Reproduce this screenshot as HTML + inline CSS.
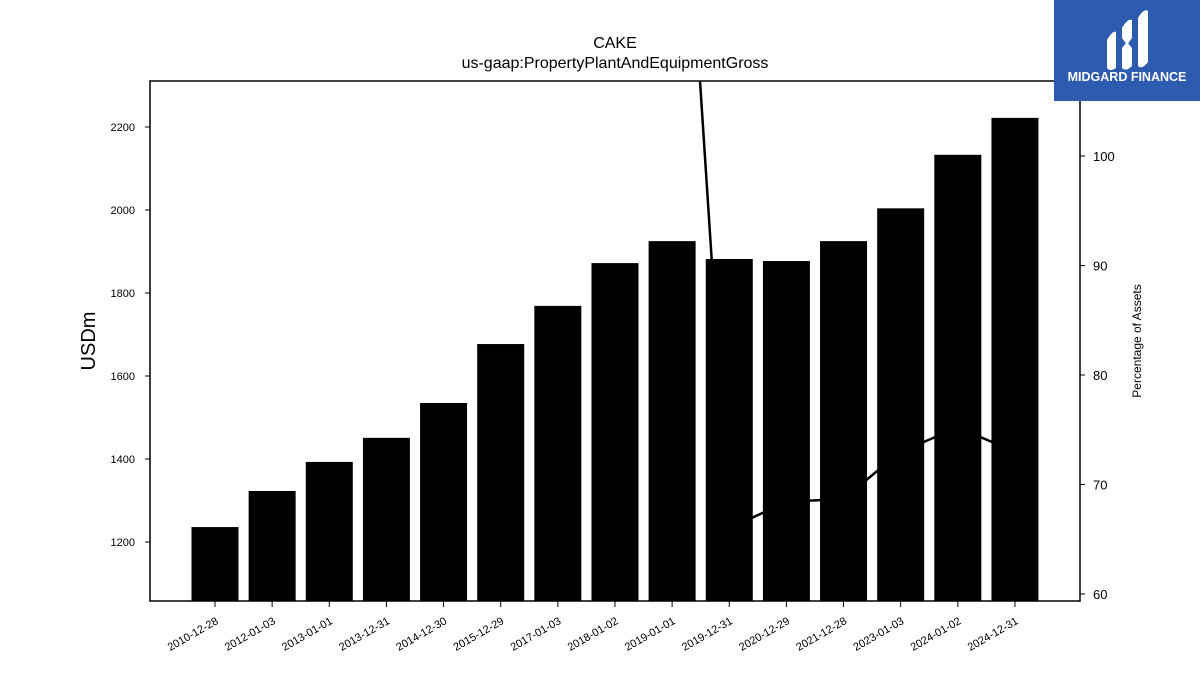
<!DOCTYPE html>
<html><head><meta charset="utf-8"><style>
body{margin:0;background:#fff;font-family:"Liberation Sans","DejaVu Sans",sans-serif}
</style></head><body>
<svg id="c" width="1200" height="675" xmlns="http://www.w3.org/2000/svg"></svg>
<script>
const categories=["2010-12-28","2012-01-03","2013-01-01","2013-12-31","2014-12-30","2015-12-29","2017-01-03","2018-01-02","2019-01-01","2019-12-31","2020-12-29","2021-12-28","2023-01-03","2024-01-02","2024-12-31"];
const ppeValues=[1236,1323,1393,1451,1535,1677,1769,1872,1925,1882,1877,1925,2004,2133,2222];
const pctValues=[140,141,142,142,143,144,145,146,145.8,66.0,68.4,68.7,73.0,75.2,73.0];
const leftTicks=[1200,1400,1600,1800,2000,2200];
const rightTicks=[60,70,80,90,100];
const NS="http://www.w3.org/2000/svg";
const svg=document.getElementById('c');
const L=150,R=1080,T=81,B=601;
const yL=v=>542-(v-1200)*0.415;
const yR=v=>156-(v-100)*10.95;
const xC=i=>215+i*57.14;
function el(t,a,p){const e=document.createElementNS(NS,t);for(const k in a)e.setAttribute(k,a[k]);(p||svg).appendChild(e);return e;}
const defs=el('defs',{});const cp=el('clipPath',{id:'clip'},defs);el('rect',{x:L,y:T,width:R-L,height:B-T},cp);
// line (behind bars)
let d=pctValues.map((v,i)=>(i?'L':'M')+xC(i)+','+yR(v)).join(' ');
const line=el('path',{d:d,fill:'none',stroke:'#000','stroke-width':2.5,'clip-path':'url(#clip)'});


ppeValues.forEach((v,i)=>{const r=el('rect',{x:xC(i)-23.5,y:yL(v),width:47,height:B-yL(v),fill:'#000'});

});
const frame=el('rect',{x:L,y:T,width:R-L,height:B-T,fill:'none',stroke:'#000','stroke-width':1.5});


leftTicks.forEach(v=>{const y=yL(v);el('line',{x1:L-5,x2:L,y1:y,y2:y,stroke:'#000'});
const t=el('text',{x:L-15,y:y+4,'font-size':11,'text-anchor':'end'});t.textContent=v;

});
rightTicks.forEach(v=>{const y=yR(v);el('line',{x1:R,x2:R+5,y1:y,y2:y,stroke:'#000'});
const t=el('text',{x:R+13,y:y+5,'font-size':13});t.textContent=v;

});
categories.forEach((c,i)=>{const x=xC(i);el('line',{x1:x,x2:x,y1:B,y2:B+6,stroke:'#000'});
const t=el('text',{x:x+4,y:B+22,'font-size':11,'text-anchor':'end',transform:`rotate(-30 ${x+4} ${B+22})`});t.textContent=c;

});
function txt(s,a,n){const t=el('text',a);t.textContent=s;return t;}
txt('CAKE',{x:615,y:48,'font-size':16,'text-anchor':'middle'},'chart-title');
txt('us-gaap:PropertyPlantAndEquipmentGross',{x:615,y:68,'font-size':16,'text-anchor':'middle'},'chart-subtitle');
txt('USDm',{x:95,y:341,'font-size':20,'text-anchor':'middle',transform:'rotate(-90 95 341)'},'y-axis-title');
txt('Percentage of Assets',{x:1141,y:341,'font-size':12,'text-anchor':'middle',transform:'rotate(-90 1141 341)'},'y2-axis-title');
// logo
const g=el('g',{});
el('rect',{x:1054,y:0,width:146,height:101,fill:'#2d5bb0'},g);
el('path',{d:'M1107,40 Q1113,30 1116,32 L1116,68 Q1110,72 1107,68 Z',fill:'#fff'},g);
el('path',{d:'M1122,28 Q1128,18 1132,20 L1132,38 L1127,45 L1122,38 Z M1122,48 L1127,42 L1132,48 L1132,66 Q1126,72 1122,68 Z',fill:'#fff'},g);
el('path',{d:'M1138,18 Q1144,8 1148,11 L1148,62 Q1142,70 1138,66 Z',fill:'#fff'},g);
const lt=el('text',{x:1127,y:81,'font-size':12.5,'font-weight':'bold',fill:'#fff','text-anchor':'middle'},g);lt.textContent='MIDGARD FINANCE';
</script>
</body></html>
